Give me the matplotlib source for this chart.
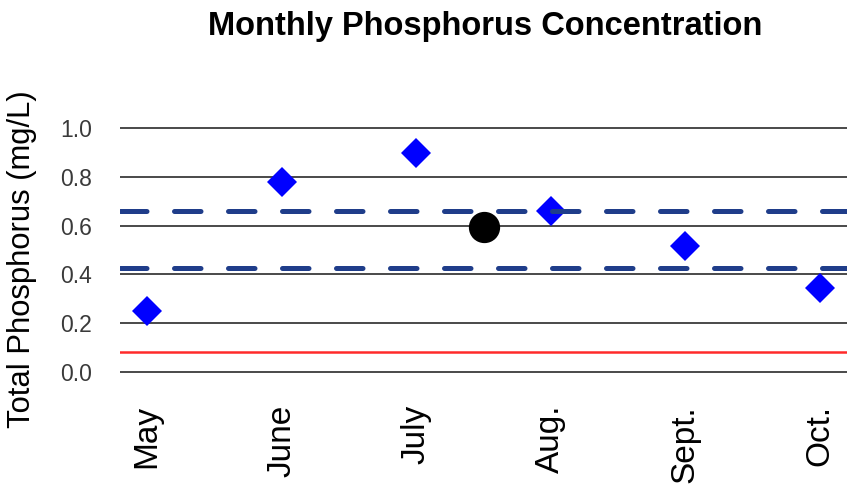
import numpy as np
import matplotlib
matplotlib.use("Agg")
import matplotlib.pyplot as plt

plt.rcParams['font.family'] = ['Liberation Sans', 'DejaVu Sans']

# Datos
meses = ['May', 'June', 'July', 'Aug.', 'Sept.', 'Oct.']
fosforo = [0.25, 0.78, 0.90, 0.66, 0.515, 0.343]
promedio_x = 3.5
promedio_y = 0.593
limite_sup = 0.66
limite_inf = 0.425
criterio = 0.08
yticks = [0.0, 0.2, 0.4, 0.6, 0.8, 1.0]

fig = plt.figure(figsize=(8.5, 4.97), dpi=100)
ax = fig.add_axes([120 / 850, 0.2326, 727 / 850, 0.5288])

x = np.arange(1, len(meses) + 1)

# lineas horizontales de la grilla
for yt in yticks:
    ax.axhline(yt, color='#3a3a3a', lw=1.3, zorder=1)

ax.axhline(criterio, color='#ff2a2a', lw=1.8, zorder=1)

ax.plot(x, fosforo, 'D', color='#0000ff', markersize=15.5, markeredgewidth=0, zorder=2)
ax.plot([promedio_x], [promedio_y], 'o', color='black', markersize=21.5, zorder=2)

for yl in (limite_sup, limite_inf):
    ax.axhline(yl, color='#1f3d8a', lw=3.6, dashes=(5.3, 5.5),
               dash_capstyle='round', zorder=3)

ax.set_xlim(0.8, 6.2)
ax.set_ylim(-0.04, 1.04)
ax.set_xticks(x)
ax.set_xticklabels(meses, rotation=90, fontsize=24, color='black')
ax.set_yticks(yticks)
ax.set_yticklabels([f'{v:.1f}' for v in yticks], fontsize=16.5, color='#3a3a3a')
ax.tick_params(axis='y', length=0, pad=20)
ax.tick_params(axis='x', length=0, pad=17)
for s in ax.spines.values():
    s.set_visible(False)

fig.text(0.5705, 1 - 26 / 497, 'Monthly Phosphorus Concentration',
         fontsize=23.5, fontweight='bold', ha='center', va='center')
fig.text(7 / 850, 1 - 259 / 497, 'Total Phosphorus (mg/L)', fontsize=22.3,
         rotation=90, ha='left', va='center')

fig.savefig('out.png', dpi=100)
